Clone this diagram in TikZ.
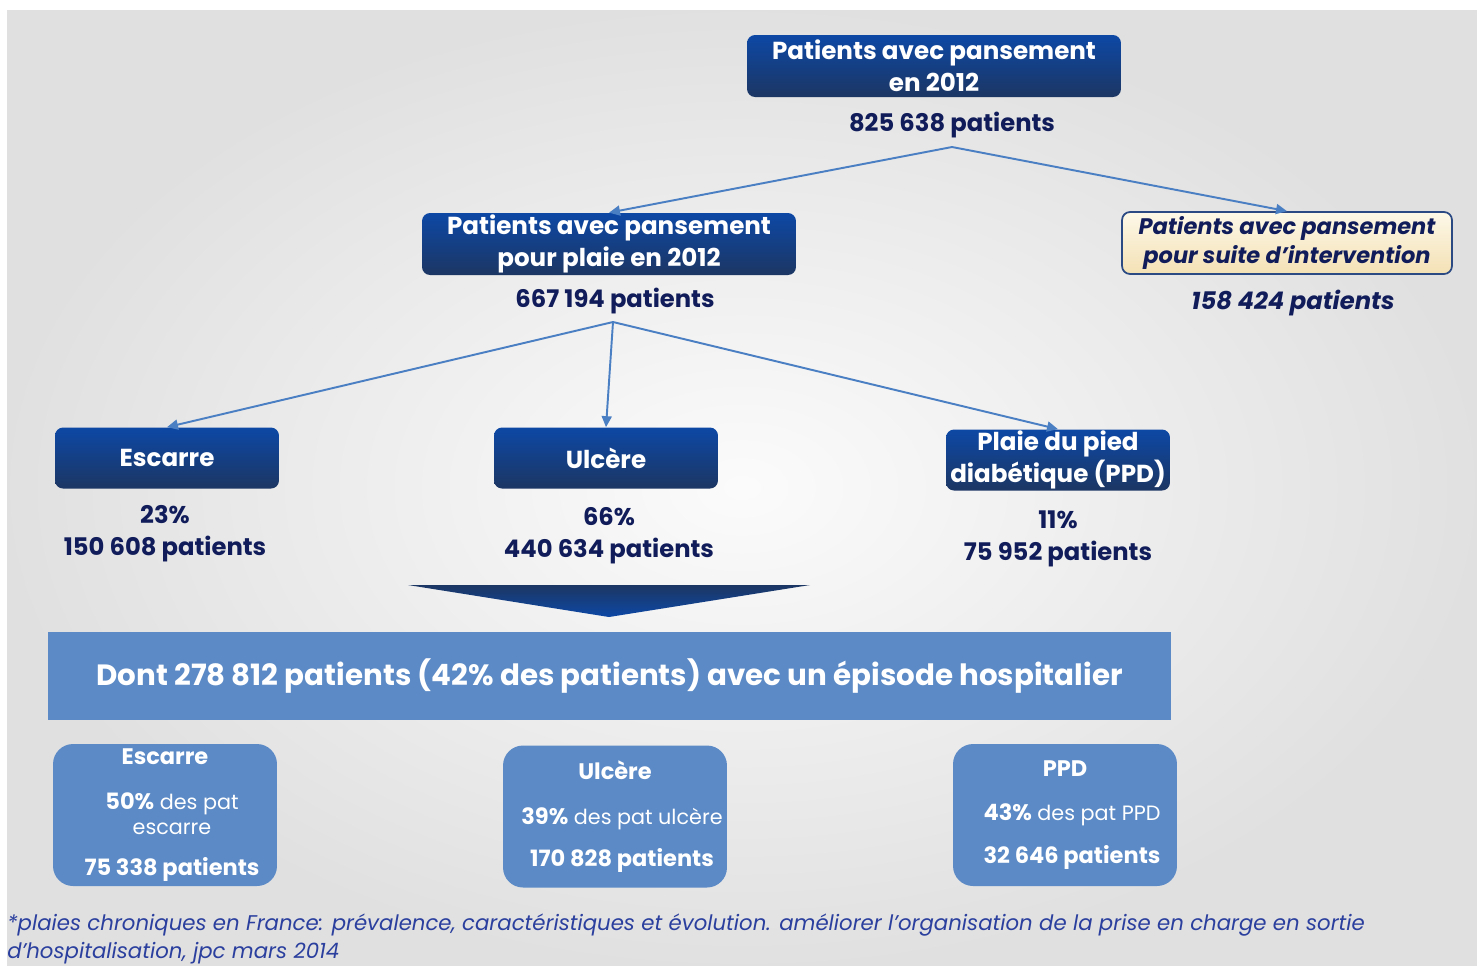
\documentclass[tikz,border=0pt]{standalone}
\usepackage{fontspec}
\setmainfont{Poppins}
\usetikzlibrary{arrows.meta}
\definecolor{navy}{HTML}{101D5A}
\definecolor{boxtop}{HTML}{0D48A5}
\definecolor{boxbot}{HTML}{1C3663}
\definecolor{midblue}{HTML}{5B8AC6}
\definecolor{linkblue}{HTML}{4B7FC3}
\definecolor{beigetop}{HTML}{FDF8E8}
\definecolor{beigebot}{HTML}{F4E1B5}
\definecolor{beigeline}{HTML}{2B4A84}
\definecolor{notecol}{HTML}{2A3F9E}
\newcommand{\boxfont}{\fontsize{14}{18.2}\selectfont\bfseries}
\newcommand{\cntfont}{\fontsize{13.8}{18.2}\selectfont\bfseries}
\newcommand{\lowfont}{\fontsize{11.8}{14.2}\selectfont}
\newcommand{\hb}{\fontsize{12.8}{14.2}\selectfont\bfseries}
\newcommand{\indentline}{\hspace*{0.28cm}}
\tikzset{
  darkbox/.style={rounded corners=0.16cm, top color=boxtop, bottom color=boxbot,
    text=white, font=\boxfont, align=center, inner sep=0pt,
    minimum width=7.48cm, minimum height=1.24cm},
  catbox/.style={darkbox, minimum width=4.48cm, minimum height=1.22cm},
  beigebox/.style={rounded corners=0.16cm, top color=beigetop, bottom color=beigebot,
    draw=beigeline, line width=1pt, text=navy,
    font=\fontsize{12.8}{17}\selectfont\bfseries\itshape, align=center,
    inner sep=0pt, minimum width=6.6cm, minimum height=1.24cm},
  count/.style={text=navy, font=\cntfont, align=center, inner sep=0pt},
  link/.style={draw=linkblue, line width=1.1pt, -{Triangle[length=0.22cm,width=0.2cm]}},
  hospbox/.style={rounded corners=0.4cm, fill=midblue, text=white, font=\lowfont,
    align=center, inner sep=0pt, minimum width=4.48cm, minimum height=2.84cm},
}
\begin{document}
\begin{tikzpicture}[x=0.02cm, y=-0.02cm]
\useasboundingbox (0,0) rectangle (1477,965);
% background
\shade[inner color=white!97!gray, outer color=white!76!gray] (7,10) rectangle (1477,965);

% level 1
\node[darkbox] (total) at (934,66) {Patients avec pansement\\en 2012};
\node[count] (ntotal) at (952,125) {825 638 patients};
\coordinate (fork1) at (952,147);

% level 2
\node[darkbox] (plaie) at (609,244) {Patients avec pansement\\pour plaie en 2012};
\node[count] (nplaie) at (615,301) {667 194 patients};
\node[beigebox] (interv) at (1287,243) {Patients avec pansement\\pour suite d'intervention};
\node[count, font=\cntfont\itshape] (ninterv) at (1293,303) {158 424 patients};
\coordinate (fork2) at (613,322);

\draw[link] (fork1) -- (plaie.north);
\draw[link] (fork1) -- (interv.north);

% level 3
\node[catbox] (escarre) at (167,458) {Escarre};
\node[catbox] (ulcere) at (606,458) {Ulcère};
\node[catbox] (ppd) at (1058,460) {Plaie du pied\\diabétique (PPD)};
\node[count] (nescarre) at (165,534) {23\%\\150 608 patients};
\node[count] (nulcere) at (609,536) {66\%\\440 634 patients};
\node[count] (nppd) at (1058,539) {11\%\\75 952 patients};

\draw[link] (fork2) -- (escarre.north);
\draw[link] (fork2) -- (ulcere.north);
\draw[link] (fork2) -- (ppd.north);

% hospital stays
\shade[top color=boxbot, bottom color=boxtop] (408,585) -- (810,585) -- (609,617) -- cycle;
\node[fill=midblue, text=white, font=\fontsize{16.7}{18}\selectfont\bfseries,
  minimum width=22.46cm, minimum height=1.76cm, inner sep=0pt] (hosp) at (609.5,676)
  {Dont 278 812 patients (42\% des patients) avec un épisode hospitalier};

\node[hospbox] (hescarre) at (165,815) {\hb Escarre\\[11.3pt]
  \indentline{\hb 50\%} des pat\\\indentline escarre\\[9.2pt]\hb\indentline 75 338 patients};
\node[hospbox] (hulcere) at (615,816.5) {\hb Ulcère\\[11.3pt]
  \indentline{\hb 39\%} des pat ulcère\\[9.7pt]\hb\indentline 170 828 patients};
\node[hospbox] (hppd) at (1065,815) {\hb PPD\\[11.3pt]
  \indentline{\hb 43\%} des pat PPD\\[10.2pt]\hb\indentline 32 646 patients};

% source
\node[anchor=north west, text=notecol, font=\fontsize{12.1}{15.5}\selectfont\itshape,
  align=left, inner sep=0pt] (source) at (7,914)
  {*plaies chroniques en France: prévalence, caractéristiques et évolution. améliorer l’organisation de la prise en charge en sortie\\d'hospitalisation, jpc mars 2014};
\end{tikzpicture}
\end{document}
